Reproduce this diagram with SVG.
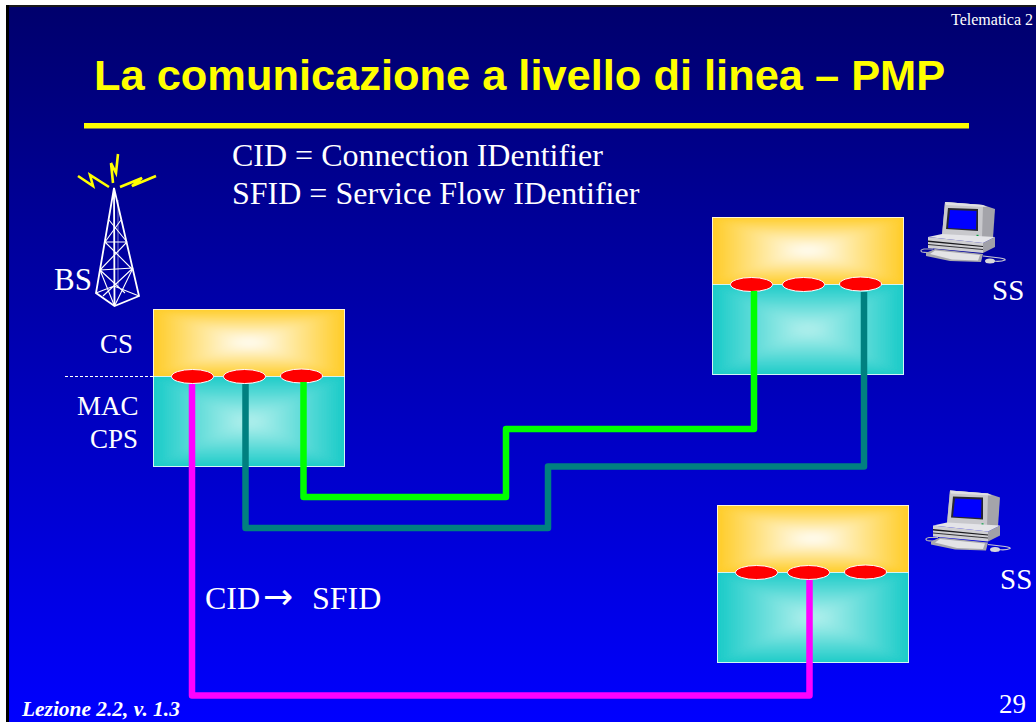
<svg xmlns="http://www.w3.org/2000/svg" width="1036" height="722" viewBox="0 0 1036 722">
<style>
.t{font-family:"Liberation Serif","Times New Roman",serif;fill:#fff}
.c{fill:none;stroke-width:6.500;stroke-linejoin:round;stroke-linecap:butt}
.e{fill:#f00;stroke:#fff;stroke-width:1}
.tw{fill:none;stroke:#fff;stroke-width:1.100}
.bolt{fill:none;stroke:#ff0;stroke-width:2.600}
</style>
<defs>
<filter id="soft" x="0" y="0" width="1" height="1"><feGaussianBlur stdDeviation="3"/></filter>
<linearGradient id="bg" x1="0" y1="0" x2="0" y2="1"><stop offset="0" stop-color="#00006b"/><stop offset="1" stop-color="#0000ff"/></linearGradient>
<linearGradient id="oT" x1="0" y1="0" x2="0" y2="1"><stop offset="0" stop-color="#ffcc26"/><stop offset="1" stop-color="#fff"/></linearGradient>
<linearGradient id="oB" x1="0" y1="1" x2="0" y2="0"><stop offset="0" stop-color="#ffcc26"/><stop offset="1" stop-color="#fff"/></linearGradient>
<linearGradient id="oL" x1="0" y1="0" x2="1" y2="0"><stop offset="0" stop-color="#ffcc26"/><stop offset="1" stop-color="#fff"/></linearGradient>
<linearGradient id="oR" x1="1" y1="0" x2="0" y2="0"><stop offset="0" stop-color="#ffcc26"/><stop offset="1" stop-color="#fff"/></linearGradient>
<linearGradient id="cT" x1="0" y1="0" x2="0" y2="1"><stop offset="0" stop-color="#19cbc8"/><stop offset="1" stop-color="#b8f1ee"/></linearGradient>
<linearGradient id="cB" x1="0" y1="1" x2="0" y2="0"><stop offset="0" stop-color="#19cbc8"/><stop offset="1" stop-color="#b8f1ee"/></linearGradient>
<linearGradient id="cL" x1="0" y1="0" x2="1" y2="0"><stop offset="0" stop-color="#19cbc8"/><stop offset="1" stop-color="#b8f1ee"/></linearGradient>
<linearGradient id="cR" x1="1" y1="0" x2="0" y2="0"><stop offset="0" stop-color="#19cbc8"/><stop offset="1" stop-color="#b8f1ee"/></linearGradient>
<g id="block">
<rect width="192" height="67" fill="#ffcc26"/>
<rect y="67" width="192" height="91" fill="#19cbc8"/>
<g filter="url(#soft)">
<polygon points="0,0 192,0 96,33.500" fill="url(#oT)"/>
<polygon points="0,67 192,67 96,33.500" fill="url(#oB)"/>
<polygon points="0,0 0,67 96,33.500" fill="url(#oL)"/>
<polygon points="192,0 192,67 96,33.500" fill="url(#oR)"/>
</g>
<g filter="url(#soft)">
<polygon points="0,67 192,67 96,112.500" fill="url(#cT)"/>
<polygon points="0,158 192,158 96,112.500" fill="url(#cB)"/>
<polygon points="0,67 0,158 96,112.500" fill="url(#cL)"/>
<polygon points="192,67 192,158 96,112.500" fill="url(#cR)"/>
</g>
<rect x=".5" y=".5" width="191" height="157" fill="none" stroke="#fff" stroke-opacity=".8"/>
<line x1="0" y1="67.500" x2="192" y2="67.500" stroke="#fff" stroke-opacity=".8"/>
<ellipse class="e" cx="39.500" cy="67.500" rx="21" ry="7"/>
<ellipse class="e" cx="91.500" cy="67.500" rx="21" ry="7"/>
<ellipse class="e" cx="148.500" cy="67" rx="21" ry="7"/>
</g>
<g id="pc">
<path d="M14,51 Q5,52 1,51 Q-2,49 3,48 L12,48" fill="none" stroke="#b0b0bc" stroke-width="1.200"/>
<path d="M62,55 L79,57 Q85,58 84,59 Q80,61 72,60" fill="none" stroke="#c8c8d0" stroke-width="1.200"/>
<polygon points="24,1 62,4 74,8 72,37 21,34" fill="#a4a4aa"/>
<polygon points="24,1 62,4 61,37 21,34" fill="#c8c8cc"/>
<polygon points="24,1 62,4 66,6 25,4" fill="#e0e0e4"/>
<polygon points="27,7 57,8 57,30 25,28" fill="#26262e"/>
<polygon points="29,9 55.500,10 55,28.500 27,27" fill="#0000ff"/>
<rect x="55.500" y="33.800" width="2" height="1.500" fill="#00a040"/>
<polygon points="7,36 62,42 62,52 7,47" fill="#cfcfd3"/>
<polygon points="62,42 74,36 74,46 62,52" fill="#a0a0a8"/>
<polygon points="7,36 21,33 74,36 62,42" fill="#e4e4e8"/>
<polygon points="7,39.500 62,45 62,46 7,41" fill="#18181c"/>
<polygon points="7,43 62,48 62,49 7,44" fill="#333338"/>
<polygon points="5,52 14,48 62,53 60,61 29,60 5,55" fill="#a8a8ae"/>
<polygon points="14,49.500 59,54 57,59.500 31,58.500 9,53" fill="#e4e4e6"/>
<ellipse cx="69" cy="60" rx="5" ry="2.500" fill="#d8d8dc"/>
</g>
</defs>
<rect width="1036" height="722" fill="url(#bg)"/>
<rect y="5" width="1036" height="2" fill="#18181c"/>
<rect width="1036" height="5" fill="#fff"/>
<rect width="6" height="722" fill="#fff"/>
<rect x="6" y="5" width="3" height="717" fill="#000"/>
<text class="t" x="1033" y="25" font-size="16" text-anchor="end">Telematica 2</text>
<text x="94" y="90" font-family="'Liberation Sans',Arial,sans-serif" font-weight="bold" font-size="43.400" fill="#ff0">La comunicazione a livello di linea – PMP</text>
<rect x="84" y="123" width="885" height="5.500" fill="#ff0"/>
<text class="t" x="232" y="166" font-size="32">CID = Connection IDentifier</text>
<text class="t" x="232" y="204" font-size="32">SFID = Service Flow IDentifier</text>
<g id="tower">
<path class="tw" stroke-width="1.800" style="stroke-width:1.800" d="M114,188 L96,293 L114.500,306 L139,296 Z M114,188 L114.500,306"/>
<path class="tw" d="M109,220 L127,242 M121,220 L105,242 M105,242 L127,242 M100,270 L133,268 M105,242 L133,270 M127,242 L100,270 M100,270 L125,293 M133,268 L103,296 M96,293 L114,286 L139,296 M100,270 L114.500,306 M133,268 L114.500,306"/>
<path d="M118,200 L118,286" stroke="#fff" stroke-opacity=".5" fill="none"/>
<path class="bolt" d="M78,176 L93,186 L90,175 L109,187 M118,154 L116,173 L111,163 L113,183 M156,176 L132,186 L142,178 L120,187"/>
</g>
<g id="node-bs"><use href="#block" x="153" y="309"/></g>
<g id="node-ss1"><use href="#block" x="712" y="217"/></g>
<g id="node-ss2"><use href="#block" x="717" y="505"/></g>
<g id="connectors">
<path class="c" stroke="#ff00ff" d="M192,384 V695.500 H809.500 V580"/>
<path class="c" stroke="#008080" d="M245.500,384 V528 H548 V466.500 H864 V292"/>
<path class="c" stroke="#00ff00" d="M303.500,382 V497 H506 V429 H754 V291"/>
</g>
<g id="pc1"><use href="#pc" x="921" y="201"/></g>
<g id="pc2"><use href="#pc" x="926" y="489.500"/></g>
<line x1="65" y1="376.500" x2="153" y2="376.500" stroke="#fff" stroke-dasharray="3,2"/>
<text class="t" x="54" y="290" font-size="31">BS</text>
<text class="t" x="100" y="353" font-size="27">CS</text>
<text class="t" x="77" y="415" font-size="27">MAC</text>
<text class="t" x="90" y="448" font-size="27">CPS</text>
<text class="t" x="992" y="300" font-size="29">SS</text>
<text class="t" x="1000" y="589" font-size="29">SS</text>
<text class="t" font-size="32" y="609"><tspan x="205">CID </tspan><tspan x="263" font-family="'DejaVu Sans',sans-serif" font-size="36">→</tspan><tspan x="304"> SFID</tspan></text>
<text class="t" x="999" y="713" font-size="27">29</text>
<text class="t" x="22" y="716" font-size="21.400" font-weight="bold" font-style="italic">Lezione 2.2, v. 1.3</text>
</svg>
